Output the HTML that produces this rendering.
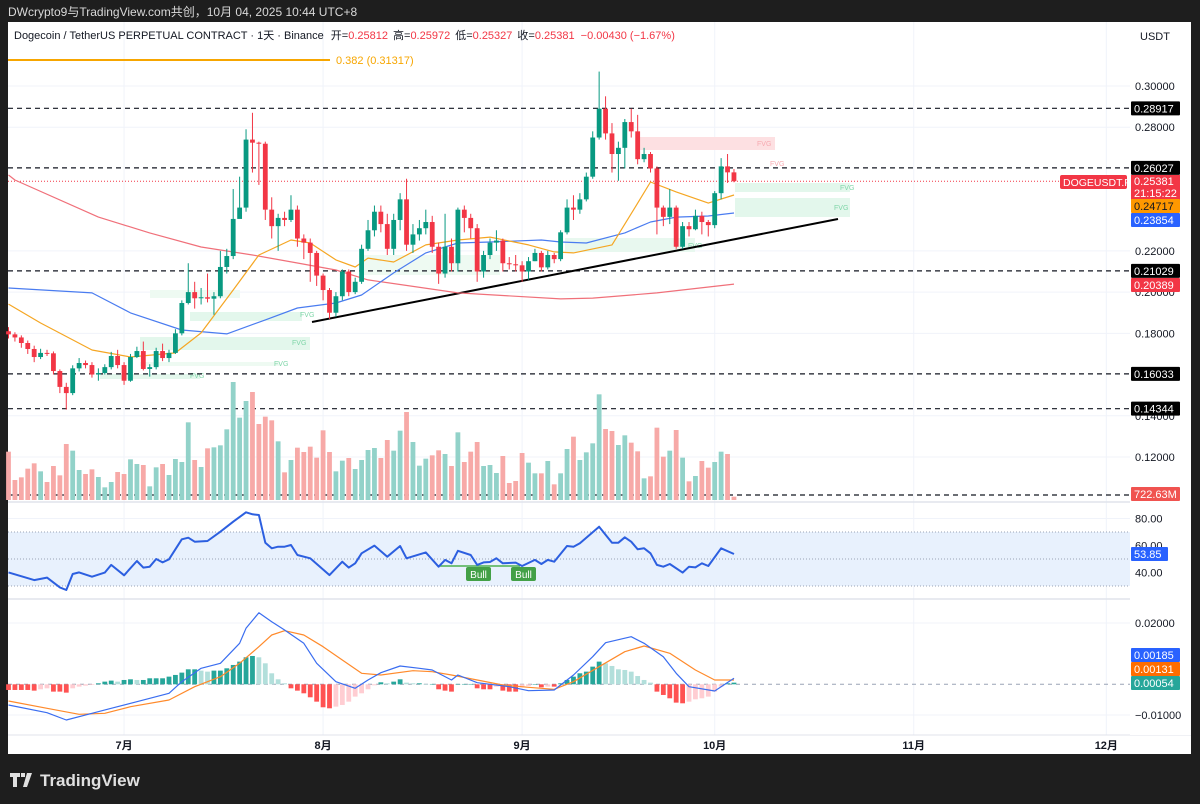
<!DOCTYPE html>
<html><head><meta charset="utf-8">
<style>
html,body{margin:0;padding:0;background:#1e1e1e;}
#wrap{position:relative;width:1200px;height:804px;overflow:hidden;background:#1e1e1e;font-family:"Liberation Sans","Noto Sans CJK SC",sans-serif;}
svg text{font-family:"Liberation Sans","Noto Sans CJK SC",sans-serif;}
</style></head>
<body>
<div id="wrap">
<svg id="svg" width="1200" height="804" viewBox="0 0 1200 804" xmlns="http://www.w3.org/2000/svg">
  <rect x="0" y="0" width="1200" height="804" fill="#1e1e1e"/>
  <text x="8" y="16" font-size="12" fill="#d9d9d9">DWcrypto9与TradingView.com共创，10月 04, 2025 10:44 UTC+8</text>
  <rect x="8" y="22" width="1183" height="732" fill="#ffffff"/>
  <g id="grid"></g>
  <g id="overlays"></g>
  <g id="vol"></g>
  <g id="ma"></g>
  <g id="candles"></g>
  <g id="rsi"></g>
  <g id="macd"></g>
  <g id="axis"></g>
  <text x="14" y="39" font-size="11" fill="#131722">Dogecoin / TetherUS PERPETUAL CONTRACT · 1天 · Binance <tspan dx="4">开=</tspan><tspan fill="#f23645">0.25812</tspan><tspan dx="5">高=</tspan><tspan fill="#f23645">0.25972</tspan><tspan dx="5">低=</tspan><tspan fill="#f23645">0.25327</tspan><tspan dx="5">收=</tspan><tspan fill="#f23645">0.25381 <tspan dx="3">−0.00430 (−1.67%)</tspan></tspan></text>
  <text x="1140" y="40" font-size="11" fill="#131722">USDT</text>
  <g>
    <path d="M10 773h10v4h-3v10h-4v-10h-3z M21 773h4v4h-4z M27 773h5l-5 14h-4z" fill="#e0e0e0"/>
    <text x="40" y="786" font-size="17" font-weight="bold" fill="#e0e0e0">TradingView</text>
  </g>
</svg>
</div>
<script>
// ---------- data ----------
const closes=[0.1795,0.1780,0.1753,0.1724,0.1685,0.1705,0.1703,0.1617,0.1540,0.1510,0.1630,0.1656,0.1646,0.1600,0.1607,0.1636,0.1690,0.1646,0.1570,0.1685,0.1714,0.1627,0.1636,0.1714,0.1680,0.1705,0.1800,0.1947,0.2000,0.1970,0.1975,0.1968,0.1980,0.2122,0.2175,0.2355,0.2410,0.2740,0.2725,0.2720,0.2400,0.2320,0.2360,0.2350,0.2400,0.2260,0.2240,0.2190,0.2080,0.2010,0.1900,0.1980,0.2100,0.2000,0.2050,0.2210,0.2300,0.2390,0.2330,0.2210,0.2350,0.2450,0.2230,0.2280,0.2310,0.2340,0.2220,0.2090,0.2220,0.2140,0.2400,0.2360,0.2310,0.2100,0.2180,0.2240,0.2250,0.2140,0.2135,0.2130,0.2100,0.2150,0.2190,0.2120,0.2180,0.2160,0.2290,0.2410,0.2400,0.2450,0.2560,0.2750,0.2890,0.2770,0.2670,0.2700,0.2825,0.2780,0.2645,0.2670,0.2600,0.2410,0.2365,0.2410,0.2220,0.2320,0.2305,0.2370,0.2340,0.2325,0.2480,0.2610,0.2581,0.2538];
const firstOpen=0.1810;
const highs=[0.1830,0.1805,0.1790,0.1765,0.1740,0.1725,0.1720,0.1712,0.1625,0.1560,0.1645,0.1680,0.1668,0.1660,0.1630,0.1650,0.1710,0.1720,0.1660,0.1700,0.1735,0.1760,0.1650,0.1730,0.1750,0.1720,0.1820,0.1960,0.2140,0.2050,0.2020,0.2090,0.2000,0.2200,0.2210,0.2500,0.2560,0.2790,0.2870,0.2730,0.2730,0.2460,0.2380,0.2390,0.2470,0.2420,0.2280,0.2260,0.2200,0.2090,0.2020,0.2000,0.2110,0.2110,0.2070,0.2230,0.2350,0.2420,0.2420,0.2380,0.2380,0.2480,0.2550,0.2330,0.2350,0.2400,0.2370,0.2240,0.2380,0.2260,0.2410,0.2420,0.2380,0.2330,0.2200,0.2260,0.2300,0.2260,0.2170,0.2180,0.2150,0.2170,0.2210,0.2200,0.2200,0.2190,0.2300,0.2450,0.2470,0.2480,0.2580,0.2780,0.3070,0.2950,0.2820,0.2730,0.2840,0.2890,0.2860,0.2700,0.2680,0.2610,0.2420,0.2500,0.2420,0.2340,0.2340,0.2400,0.2390,0.2350,0.2490,0.2650,0.2670,0.2597];
const lows=[0.1775,0.1760,0.1730,0.1700,0.1660,0.1675,0.1690,0.1600,0.1510,0.1430,0.1500,0.1615,0.1630,0.1585,0.1570,0.1600,0.1625,0.1630,0.1550,0.1565,0.1680,0.1620,0.1590,0.1625,0.1665,0.1660,0.1700,0.1790,0.1940,0.1920,0.1940,0.1950,0.1890,0.1970,0.2090,0.2160,0.2380,0.2390,0.2580,0.2520,0.2350,0.2260,0.2200,0.2320,0.2340,0.2220,0.2160,0.2050,0.2030,0.1960,0.1870,0.1880,0.1960,0.1980,0.1990,0.2040,0.2200,0.2270,0.2290,0.2180,0.2180,0.2300,0.2200,0.2190,0.2250,0.2280,0.2190,0.2040,0.2070,0.2100,0.2100,0.2290,0.2260,0.2050,0.2070,0.2160,0.2200,0.2100,0.2110,0.2100,0.2050,0.2060,0.2150,0.2100,0.2110,0.2140,0.2150,0.2280,0.2350,0.2380,0.2440,0.2550,0.2740,0.2740,0.2580,0.2540,0.2600,0.2750,0.2620,0.2630,0.2580,0.2280,0.2320,0.2330,0.2210,0.2210,0.2270,0.2300,0.2280,0.2270,0.2310,0.2450,0.2530,0.2533];
const volumes=[145,60,68,94,110,86,54,102,74,168,148,90,78,92,69,38,54,84,78,122,108,105,41,98,108,75,123,114,233,120,99,155,158,164,212,354,247,297,324,228,250,239,176,83,120,157,144,160,127,209,144,86,118,126,93,120,150,156,126,180,148,208,264,174,103,124,134,149,138,102,203,114,145,174,102,105,81,132,51,57,141,112,80,80,117,47,80,153,190,120,143,170,317,213,207,165,194,172,146,65,71,217,130,148,210,127,56,72,117,97,114,145,138,10];
const ma20Days=[0,5,13,19,26,30,35,39,44,47,51,54,56,60,65,70,75,81,85,88,94,98,100,104,109,113];
const ma20Vals=[0.1942,0.1850,0.1719,0.1685,0.1705,0.1802,0.2010,0.2180,0.2253,0.2238,0.2156,0.2122,0.2165,0.2146,0.2229,0.2253,0.2267,0.2229,0.2195,0.2190,0.2229,0.2432,0.2534,0.2486,0.2432,0.2471];
const ma50Days=[0,13,19,27,34,40,45,51,55,60,65,70,75,83,86,90,96,100,104,109,113];
const ma50Vals=[0.2020,0.1996,0.1899,0.1816,0.1797,0.1865,0.1923,0.1947,0.1986,0.2093,0.2190,0.2238,0.2243,0.2253,0.2243,0.2238,0.2287,0.2340,0.2364,0.2369,0.2384];
const ma200Days=[0,1,14,22,30,38,45,51,56,70,86,91,101,113];
const ma200Vals=[0.2568,0.2544,0.2364,0.2287,0.2219,0.2180,0.2141,0.2107,0.2059,0.1996,0.1967,0.1971,0.1996,0.2039];
const rsiDays=[0,4,6,8,9,10,11,13,15,16,18,20,21,22,23,24,25,27,28,29,31,33,35,37,38,39,40,41,42,43,44,45,47,50,52,53,54,55,57,59,61,62,65,67,68,69,70,72,73,74,75,76,77,79,80,82,83,84,85,87,88,89,92,94,95,96,97,98,99,100,101,102,103,105,106,107,108,109,111,113];
const rsiVals=[40.1,34.4,36.2,29.0,27.0,38.9,40.1,36.9,39.9,45.6,37.9,48.5,43.6,44.3,50.0,47.5,49.8,64.6,65.8,62.8,63.3,70.2,77.6,84.6,83.1,82.6,62.1,57.9,59.1,59.1,60.4,53.0,50.5,38.1,48.0,43.6,46.8,54.2,59.9,51.7,59.6,50.5,54.9,44.3,49.3,46.8,56.1,53.0,45.6,47.5,47.8,50.5,46.8,47.3,44.8,49.3,46.3,49.3,48.0,59.6,59.1,61.6,73.9,62.1,62.1,66.1,62.8,57.2,57.9,54.2,45.6,44.3,46.3,39.9,44.3,43.8,46.8,44.8,57.9,53.7];
const macdDays=[0,6,9,13,16,20,25,27,30,33,36,37,39,41,43,46,48,51,54,56,58,61,64,66,69,70,73,78,81,85,88,91,93,97,99,102,104,106,110,113];
const macdVals=[-0.00675,-0.00926,-0.01165,-0.00946,-0.00783,-0.00567,-0.00294,0.00085,0.00522,0.00685,0.01338,0.01827,0.02336,0.02042,0.01772,0.01338,0.00685,0.00085,-0.0013,0.0014,0.00378,0.00597,0.00522,0.00467,0.0014,0.00303,0.00052,-0.00078,-0.00209,-0.00186,0.00303,0.009,0.01357,0.01553,0.01338,0.009,0.00359,-0.00078,-0.00219,0.00196];
const sigDays=[0,6,11,15,19,25,29,33,36,39,41,43,46,49,52,55,58,63,66,69,73,77,81,85,88,92,96,99,103,107,110,113];
const sigVals=[-0.00545,-0.00783,-0.00979,-0.00946,-0.00731,-0.00512,-0.00078,0.00248,0.00685,0.01227,0.01608,0.01749,0.01608,0.01227,0.00793,0.00359,0.00303,0.00444,0.00411,0.00303,0.0014,-0.00023,-0.00098,-0.00163,0.00085,0.00574,0.01064,0.0125,0.01011,0.00467,0.0014,0.0014];
const histVals=[-0.00185,-0.00185,-0.00185,-0.00185,-0.00207,-0.00163,-0.00131,-0.00239,-0.00239,-0.00272,-0.00131,-0.00076,-0.00044,-0.00022,0.00033,0.00087,0.0012,0.00087,0.00141,0.00163,0.00141,0.00141,0.00196,0.00196,0.00196,0.0025,0.00305,0.00381,0.00489,0.00489,0.00446,0.00413,0.00446,0.00446,0.00522,0.00631,0.0074,0.00881,0.00924,0.00881,0.00685,0.00359,0.00163,0.00033,-0.00131,-0.00207,-0.00294,-0.00424,-0.00566,-0.0075,-0.00783,-0.00729,-0.00674,-0.00566,-0.00402,-0.00294,-0.00163,-0.00033,0.00065,0.00033,0.00087,0.00163,0.00054,0.00033,0.00033,0.00011,0.00011,-0.00163,-0.00207,-0.00239,0.00011,0.00011,0.00011,-0.00131,-0.00163,-0.00163,-0.00076,-0.00207,-0.00239,-0.00239,-0.00098,-0.00054,0,-0.00098,-0.00076,-0.00076,0.00033,0.00141,0.0025,0.00359,0.00413,0.00576,0.0074,0.00685,0.00598,0.00489,0.00467,0.00413,0.0027,0.00141,0.00054,-0.00239,-0.00348,-0.00457,-0.00598,-0.0062,-0.00566,-0.0049,-0.00457,-0.00402,-0.00239,-0.00076,0.00033,0.00054];
const hLevels=[0.28917,0.26027,0.21029,0.16033,0.14344];
const priceTicks=[0.30,0.28,0.22,0.20,0.18,0.14,0.12];
const monthLabels=["7月","8月","9月","10月","11月","12月"];
const monthDays=[18,49,80,110,141,171];

// ---------- scales ----------
const NS="http://www.w3.org/2000/svg";
const xOf=k=>8.5+6.42*k;
const yP=p=>86+(0.30-p)*2061;
const yR=v=>559-(v-50)*1.35;
const yM=v=>684.3-v*3065;
const VOL_BASE=500, volScale=1/3;
function mk(tag,attrs,parent,text){const e=document.createElementNS(NS,tag);for(const a in attrs)e.setAttribute(a,attrs[a]);if(text!==undefined)e.textContent=text;parent.appendChild(e);return e;}
const G=id=>document.getElementById(id);

// grid
const grid=G('grid');
monthDays.forEach((d,i)=>{
  const l=mk('line',{x1:xOf(d),x2:xOf(d),y1:22,y2:735,stroke:'#f0f3fa','stroke-width':1},grid);
  
  
  const t=mk('text',{x:xOf(d),y:749,'font-size':11,'font-weight':'bold','text-anchor':'middle',fill:'#131722'},grid,monthLabels[i]);
  
  
});
priceTicks.forEach(p=>{
  const l=mk('line',{x1:8,x2:1130,y1:yP(p),y2:yP(p),stroke:'#f0f3fa'},grid);
  
  
});
[80,60,40].forEach(v=>{const l=mk('line',{x1:8,x2:1130,y1:yR(v),y2:yR(v),stroke:'#f0f3fa'},grid);
  
  });
[0.02,-0.01].forEach(v=>{const l=mk('line',{x1:8,x2:1130,y1:yM(v),y2:yM(v),stroke:'#f0f3fa'},grid);
  
  });
[502,599].forEach(y=>{const l=mk('line',{x1:8,x2:1191,y1:y,y2:y,stroke:'#e0e3eb','stroke-width':1.5},grid);
  
  });
const tb=mk('line',{x1:8,x2:1191,y1:735,y2:735,stroke:'#e0e3eb'},grid);



// overlays: FVG boxes, lines
const ov=G('overlays');
const fvg=[[640,137,135,13,'#fde0e2','FVG','#f7a9b0',757,146],[190,312,112,9,'#e3f7ec','FVG','#7fd6a8',300,317],[140,337,170,13,'#e3f7ec','FVG','#7fd6a8',292,345],[140,362,140,4,'#eefaf2','FVG','#7fd6a8',274,366],[100,374,100,5,'#e3f7ec','FVG','#7fd6a8',190,378],[735,183,115,9,'#e3f7ec','FVG','#7fd6a8',840,190],[735,198,115,19,'#e3f7ec','FVG','#7fd6a8',834,210],[565,238,130,14,'#e8f8ef','FVG','#7fd6a8',688,248],[360,255,140,20,'#eefaf2','','',0,0],[150,290,90,8,'#eefaf2','','',0,0]];
fvg.forEach(f=>{
  const r=mk('rect',{x:f[0],y:f[1],width:f[2],height:f[3],fill:f[4]},ov);
  
  
  if(f[5]){const t=mk('text',{x:f[7],y:f[8],'font-size':7,fill:f[6]},ov,f[5]);
    
    }
});
const ft=mk('text',{x:770,y:166,'font-size':7,fill:'#f7a9b0'},ov,'FVG');


hLevels.forEach(p=>{
  const l=mk('line',{x1:8,x2:1130,y1:yP(p),y2:yP(p),stroke:'#131722','stroke-width':1.2,'stroke-dasharray':'5,4'},ov);
  
  
});
const vl=mk('line',{x1:8,x2:1130,y1:495,y2:495,stroke:'#131722','stroke-width':1.2,'stroke-dasharray':'5,4'},ov);


const cp=mk('line',{x1:8,x2:1060,y1:yP(closes[closes.length-1]),y2:yP(closes[closes.length-1]),stroke:'#f23645','stroke-width':1,'stroke-dasharray':'1,2'},ov);


const fib=mk('line',{x1:8,x2:330,y1:60,y2:60,stroke:'#f7a600','stroke-width':2},ov);


const fibt=mk('text',{x:336,y:64,'font-size':11,fill:'#f7a600'},ov,'0.382 (0.31317)');


const tl=mk('line',{x1:312,y1:322,x2:838,y2:219,stroke:'#000','stroke-width':2},ov);



// opens
const opens=closes.map((c,k)=>k===0?firstOpen:closes[k-1]);

// volume
const vg=G('vol');
volumes.forEach((v,k)=>{
  const up=closes[k]>=opens[k];
  const h=v*volScale;
  const r=mk('rect',{x:xOf(k)-2.4,y:VOL_BASE-h,width:4.8,height:h,fill:up?'#92d2c9':'#f7a9a7'},vg);
  
  
});

// MAs
function poly(days,vals,yf,color,w,parent,name){
  const pts=days.map((d,i)=>xOf(d).toFixed(1)+','+yf(vals[i]).toFixed(1)).join(' ');
  const p=mk('polyline',{points:pts,fill:'none',stroke:color,'stroke-width':w,'stroke-linejoin':'round'},parent);
  
  
}
const mg=G('ma');
poly(ma200Days,ma200Vals,yP,'#f0707a',1.2,mg,'ma200-line');
poly(ma50Days,ma50Vals,yP,'#4a7cf0',1.2,mg,'ma50-line');
poly(ma20Days,ma20Vals,yP,'#f5a623',1.2,mg,'ma20-line');

// candles
const cg=G('candles');
closes.forEach((c,k)=>{
  const o=opens[k],up=c>=o,col=up?'#089981':'#f23645';
  const x=xOf(k);
  const w=mk('line',{x1:x,x2:x,y1:yP(highs[k]),y2:yP(lows[k]),stroke:col,'stroke-width':1},cg);
  
  
  const t=Math.min(yP(o),yP(c)),h=Math.max(1,Math.abs(yP(o)-yP(c)));
  const b=mk('rect',{x:x-2.4,y:t,width:4.8,height:h,fill:col},cg);
  
  
});

// RSI
const rg=G('rsi');
const band=mk('rect',{x:8,y:yR(70),width:1122,height:yR(30)-yR(70),fill:'#e8f1fd'},rg);


[70,50,30].forEach(v=>{const l=mk('line',{x1:8,x2:1130,y1:yR(v),y2:yR(v),stroke:'#9aa3b5','stroke-width':1,'stroke-dasharray':'1,2'},rg);
  
  });
const bl=mk('line',{x1:440,x2:520,y1:566,y2:566,stroke:'#4caf50','stroke-width':1.5},rg);


poly(rsiDays,rsiVals,yR,'#2c5fe0',2,rg,'rsi-line');
[[466,'Bull'],[511,'Bull']].forEach(b=>{
  const r=mk('rect',{x:b[0],y:567,width:25,height:14,rx:2,fill:'#43a047'},rg);
  
  
  const t=mk('text',{x:b[0]+12.5,y:578,'font-size':10,'text-anchor':'middle',fill:'#fff'},rg,b[1]);
  
  
});

// MACD
const mcg=G('macd');
const zl=mk('line',{x1:8,x2:1130,y1:yM(0),y2:yM(0),stroke:'#9aa3b5','stroke-dasharray':'4,4'},mcg);


histVals.forEach((v,k)=>{
  const prev=k?histVals[k-1]:v;
  let col;
  if(v>=0) col=v>=prev?'#26a69a':'#b2dfdb'; else col=v<=prev?'#ff5252':'#ffcdd2';
  const y0=yM(0),y1=yM(v);
  const r=mk('rect',{x:xOf(k)-2.4,y:Math.min(y0,y1),width:4.8,height:Math.max(0.5,Math.abs(y1-y0)),fill:col},mcg);
  
  
});
poly(sigDays,sigVals,yM,'#ff8a2b',1.2,mcg,'macd-signal-line');
poly(macdDays,macdVals,yM,'#3a6df0',1.2,mcg,'macd-line');

// axis labels
const ax=G('axis');
const axBg=mk('rect',{x:1130,y:22,width:61,height:713,fill:'#fff'},ax);


function tick(y,txt){const t=mk('text',{x:1135,y:y+4,'font-size':11,fill:'#131722'},ax,txt);
  
  }
priceTicks.forEach(p=>tick(yP(p),p.toFixed(5)));
[80,60,40].forEach(v=>tick(yR(v),v.toFixed(2)));
[0.02,-0.01].forEach(v=>tick(yM(v),(v<0?'−':'')+Math.abs(v).toFixed(5)));
function badge(y,txt,bg,fg,h,x,w){
  const r=mk('rect',{x:x||1131,y:y-7,width:w||49,height:h||14,rx:1,fill:bg},ax);
  
  
  const t=mk('text',{x:(x||1131)+3,y:y+4,'font-size':11,fill:fg},ax,txt);
  
  
}
hLevels.forEach(p=>badge(yP(p),p.toFixed(5),'#000','#fff'));
const pr=mk('rect',{x:1131,y:175,width:49,height:25,fill:'#f23645'},ax);


const prt=mk('text',{x:1134,y:185,'font-size':11,fill:'#fff'},ax,'0.25381');


const cd=mk('text',{x:1134,y:197,'font-size':11,fill:'#fff'},ax,'21:15:22');


badge(206,'0.24717','#ff9800','#131722');
badge(220,'0.23854','#2962ff','#fff');
badge(285,'0.20389','#f23645','#fff');
badge(494,'722.63M','#f05350','#fff');
badge(554,'53.85','#2962ff','#fff',14,1131,37);
badge(655,'0.00185','#2962ff','#fff');
badge(669,'0.00131','#ff6d00','#fff');
badge(683,'0.00054','#26a69a','#fff');
const sym=mk('rect',{x:1060,y:175,width:67,height:14,rx:2,fill:'#f23645'},ax);


const symt=mk('text',{x:1063,y:186,'font-size':10.5,fill:'#fff'},ax,'DOGEUSDT.P');


</script>
</body></html>
